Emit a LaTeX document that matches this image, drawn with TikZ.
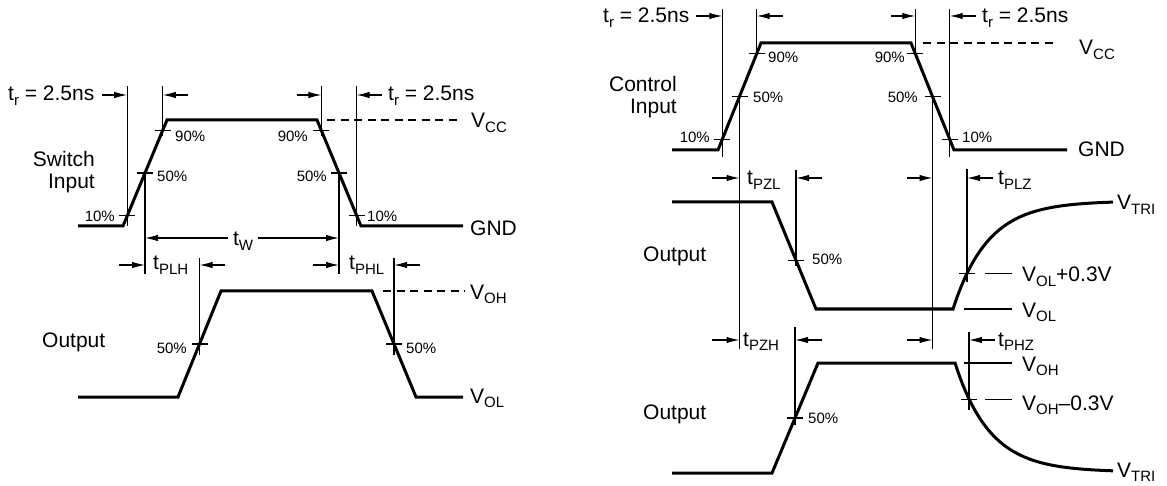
\documentclass[tikz,border=0pt]{standalone}
\usepackage{fontspec}
\setmainfont{Liberation Sans}
\usetikzlibrary{arrows.meta}
\newcommand\subs[1]{\raisebox{-4.5pt}{\fontsize{15}{15}\selectfont #1}}
\begin{document}
\begin{tikzpicture}[x=1pt,y=-1pt,
  wave/.style={line width=3pt,line join=miter},
  thinline/.style={line width=1.1pt},
  dimarrow/.style={line width=1.1pt,-{Latex[length=13pt,width=6.5pt]}},
  dashline/.style={line width=1.1pt,dash pattern=on 8pt off 5.5pt},
  lbl/.style={inner sep=0pt,font=\fontsize{21}{21.5}\selectfont},
  pct/.style={inner sep=0pt,font=\fontsize{15}{16}\selectfont},
  tick/.style={line width=1.1pt}]
\useasboundingbox[fill=white] (0,0) rectangle (1167,486);

% ================= LEFT DIAGRAM =================
\coordinate (si0) at (78,226);
\coordinate (si1) at (123,226);
\coordinate (si2) at (167,120);
\coordinate (si3) at (317,120);
\coordinate (si4) at (361,226);
\coordinate (si5) at (463,226);
\draw[wave] (si0) -- (si1) -- (si2) -- (si3) -- (si4) -- (si5);
\foreach \x/\y in {127.2/215.4,145/173,162.8/130.6,321.4/130.6,339/173,356.6/215.4}
  \draw[tick] (\x-8,\y) -- (\x+8,\y);
\draw[thinline] (127.2,86) -- (127.2,226);
\draw[thinline] (162.8,86) -- (162.8,136);
\draw[thinline] (321.4,86) -- (321.4,136);
\draw[thinline] (356.6,86) -- (356.6,226);
\draw[thinline] (145,173) -- (145,274);
\draw[thinline] (339,173) -- (339,274);
\coordinate (a1) at (102,95); \coordinate (a1e) at (127.2,95);
\coordinate (a2) at (188,95); \coordinate (a2e) at (162.8,95);
\coordinate (a3) at (297,95); \coordinate (a3e) at (321.4,95);
\coordinate (a4) at (382,95); \coordinate (a4e) at (356.6,95);
\draw[dimarrow] (a1) -- (a1e);
\draw[dimarrow] (a2) -- (a2e);
\draw[dimarrow] (a3) -- (a3e);
\draw[dimarrow] (a4) -- (a4e);
\node[lbl,anchor=base west] (trL1) at (8,101) {t\subs{r} = 2.5ns};
\node[lbl,anchor=base west] (trL2) at (388,101) {t\subs{r} = 2.5ns};
\draw[dashline] (327,120) -- (462,120);
\node[lbl,anchor=base west] (vccL) at (471,128) {V\subs{CC}};
\node[lbl,anchor=base west] (gndL) at (470,236) {GND};
\node[pct,anchor=base west] (p90a) at (175,142) {90\%};
\node[pct,anchor=base west] (p50a) at (157,182) {50\%};
\node[pct,anchor=base east] (p10a) at (115,222) {10\%};
\node[pct,anchor=base east] (p90b) at (308,142) {90\%};
\node[pct,anchor=base east] (p50b) at (327,182) {50\%};
\node[pct,anchor=base west] (p10b) at (367,222) {10\%};
\node[lbl,anchor=north east,align=right] (swin) at (95,151.5) {Switch\\Input};
\node[lbl,anchor=base] (tw) at (243,246) {t\subs{W}};
\coordinate (tw1) at (228,238); \coordinate (tw1e) at (145,238);
\coordinate (tw2) at (258,238); \coordinate (tw2e) at (339,238);
\draw[dimarrow] (tw1) -- (tw1e);
\draw[dimarrow] (tw2) -- (tw2e);
\coordinate (o0) at (78,397);
\coordinate (o1) at (178,397);
\coordinate (o2) at (221,291);
\coordinate (o3) at (372,291);
\coordinate (o4) at (416,397);
\coordinate (o5) at (463,397);
\draw[wave] (o0) -- (o1) -- (o2) -- (o3) -- (o4) -- (o5);
\draw[tick] (199.5-8,344) -- (199.5+8,344);
\draw[tick] (394-8,344) -- (394+8,344);
\draw[thinline] (199.5,258) -- (199.5,355);
\draw[thinline] (394,258) -- (394,355);
\draw[dimarrow] (119,265) -- (145,265);
\draw[dimarrow] (225,265) -- (199.5,265);
\draw[dimarrow] (313,265) -- (339,265);
\draw[dimarrow] (420,265) -- (394,265);
\node[lbl,anchor=base west] (tplh) at (153,270) {t\subs{PLH}};
\node[lbl,anchor=base west] (tphl) at (349,270) {t\subs{PHL}};
\draw[dashline] (383,291) -- (465,291);
\node[lbl,anchor=base west] (vohL) at (470,299) {V\subs{OH}};
\node[lbl,anchor=base west] (volL) at (470,403) {V\subs{OL}};
\node[pct,anchor=base east] (p50c) at (187,353) {50\%};
\node[pct,anchor=base west] (p50d) at (406,353) {50\%};
\node[lbl,anchor=base west] (outL) at (42,347) {Output};

% ================= RIGHT DIAGRAM =================
\draw[wave] (672,150) -- (718,150) -- (761,43) -- (911,43) -- (954,150) -- (1067,150);
\foreach \x/\y in {722.3/139.3,739.5/96.5,756.7/53.7,915.3/53.7,932.5/96.5,949.7/139.3}
  \draw[tick] (\x-8,\y) -- (\x+8,\y);
\draw[thinline] (722.3,9) -- (722.3,157);
\draw[thinline] (756.7,9) -- (756.7,58);
\draw[thinline] (915.3,9) -- (915.3,58);
\draw[thinline] (949.7,9) -- (949.7,157);
\draw[thinline] (739.5,96.5) -- (739.5,349);
\draw[thinline] (932.5,96.5) -- (932.5,349);
\draw[dimarrow] (696,16) -- (722.3,16);
\draw[dimarrow] (783,16) -- (756.7,16);
\draw[dimarrow] (891,16) -- (915.3,16);
\draw[dimarrow] (976,16) -- (949.7,16);
\node[lbl,anchor=base west] (trR1) at (603,23) {t\subs{r} = 2.5ns};
\node[lbl,anchor=base west] (trR2) at (982,23) {t\subs{r} = 2.5ns};
\draw[dashline] (923,43) -- (1057,43);
\node[lbl,anchor=base west] (vccR) at (1079,55) {V\subs{CC}};
\node[lbl,anchor=base west] (gndR) at (1078,157) {GND};
\node[pct,anchor=base west] (p90e) at (768,63) {90\%};
\node[pct,anchor=base west] (p50e) at (753,103) {50\%};
\node[pct,anchor=base east] (p10e) at (710,143) {10\%};
\node[pct,anchor=base east] (p90f) at (905,63) {90\%};
\node[pct,anchor=base east] (p50f) at (918,103) {50\%};
\node[pct,anchor=base west] (p10f) at (962,143) {10\%};
\node[lbl,anchor=north east,align=right] (ctin) at (677,76.5) {Control\\Input};

\draw[wave] (672,202) -- (772,202) -- (816,309) -- (953,309)
  -- plot[domain=953:1113,samples=80] (\x,{309-108*(1-exp(-(\x-953)/35))});
\draw[tick] (796-8,260.4) -- (796+8,260.4);
\draw[thinline] (796,170) -- (796,266);
\draw[dimarrow] (712,178) -- (739.5,178);
\draw[dimarrow] (822,178) -- (796,178);
\draw[dimarrow] (907,178) -- (932.5,178);
\draw[thinline] (967,169) -- (967,282);
\draw[tick] (967-8,273.4) -- (967+8,273.4);
\draw[dimarrow] (993,178) -- (967,178);
\node[lbl,anchor=base west] (tpzl) at (747,185) {t\subs{PZL}};
\node[lbl,anchor=base west] (tplz) at (998,185) {t\subs{PLZ}};
\node[lbl,anchor=base west] (out1) at (643,262) {Output};
\node[pct,anchor=base west] (p50g) at (812,265) {50\%};
\draw[thinline] (985,273.4) -- (1012,273.4);
\draw[thinline] (964,309) -- (1012,309);
\node[lbl,anchor=base west] (vtri1) at (1117,210) {V\subs{TRI}};
\node[lbl,anchor=base west] (volp) at (1022,282) {V\subs{OL}+0.3V};
\node[lbl,anchor=base west] (volR) at (1022,317) {V\subs{OL}};

\draw[wave] (672,473) -- (772,473) -- (818,363) -- (955,363)
  -- plot[domain=955:1113,samples=80] (\x,{363+109*(1-exp(-(\x-955)/35))});
\draw[tick] (795-8,418) -- (795+8,418);
\draw[thinline] (795,327) -- (795,425);
\draw[dimarrow] (712,340) -- (739.5,340);
\draw[dimarrow] (822,340) -- (795,340);
\draw[dimarrow] (907,340) -- (932.5,340);
\draw[thinline] (969,332) -- (969,410);
\draw[tick] (969-8,399.3) -- (969+8,399.3);
\draw[dimarrow] (995,340) -- (969,340);
\node[lbl,anchor=base west] (tpzh) at (743,346) {t\subs{PZH}};
\node[lbl,anchor=base west] (tphz) at (998,346) {t\subs{PHZ}};
\node[lbl,anchor=base west] (out2) at (643,419) {Output};
\node[pct,anchor=base west] (p50h) at (808,423) {50\%};
\draw[thinline] (964,363) -- (1012,363);
\draw[thinline] (985,399.3) -- (1012,399.3);
\node[lbl,anchor=base west] (vohR) at (1022,371) {V\subs{OH}};
\node[lbl,anchor=base west] (vohm) at (1022,410) {V\subs{OH}–0.3V};
\node[lbl,anchor=base west] (vtri2) at (1117,477) {V\subs{TRI}};
\end{tikzpicture}
\end{document}
